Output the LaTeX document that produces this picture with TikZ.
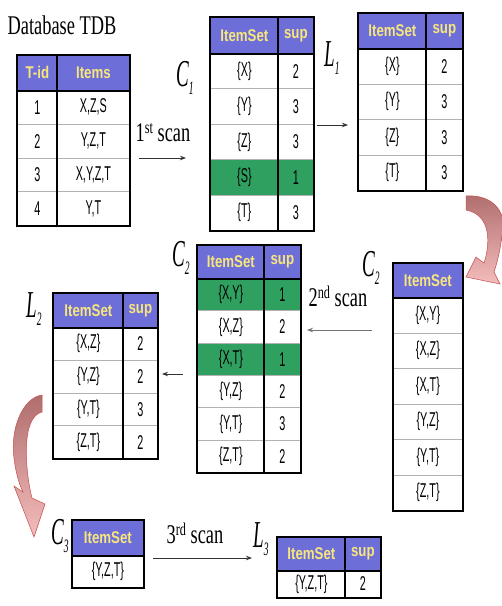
\documentclass[tikz,border=0pt]{standalone}
\usepackage{fontspec}
\setmainfont{Liberation Serif}
\setsansfont{Liberation Sans}
\usepackage{graphicx}
\usetikzlibrary{arrows.meta}
\definecolor{hdblue}{HTML}{6E6ED8}
\definecolor{hdyel}{HTML}{F6E67C}
\definecolor{grn}{HTML}{30A060}
\definecolor{pinkL}{HTML}{F4BCBC}
\definecolor{pinkD}{HTML}{B06E6E}
\newcommand\cellt[1]{\scalebox{0.54}[1]{\sffamily\fontsize{20}{20}\selectfont #1}}
\newcommand\hdt[1]{\scalebox{0.78}[1]{\sffamily\bfseries\fontsize{17}{17}\selectfont #1}}
\newcommand\labt[1]{\scalebox{0.68}[1]{\fontsize{27}{27}\selectfont #1}}
\newcommand\supt[1]{\raisebox{8pt}{\fontsize{18}{18}\selectfont #1}}
\newcommand\setlab[2]{\scalebox{0.5}[1]{\fontsize{38}{38}\selectfont\itshape #1\raisebox{-8pt}{\fontsize{19}{19}\selectfont #2}}}
\newcommand\tabcell[7]{\node[#2, anchor=north west, minimum width=#5pt, minimum height=#6pt] (#1) at (#3,#4) {#7};}
\tikzset{
 cl/.style={draw=gray!60, line width=0.8pt, fill=white, inner sep=0pt},
 hd/.style={draw=black, line width=0.8pt, fill=hdblue, inner sep=0pt, text=hdyel},
 outer/.style={draw=black, line width=2pt},
 hline/.style={draw=black, line width=1.8pt},
 vline/.style={draw=black, line width=1.3pt},
 flow/.style={draw=black!80, line width=0.8pt, -{Stealth[length=6pt,width=4.5pt]}},
 bendarrow/.style={top color=pinkD, bottom color=pinkL, draw=pinkD!70!red, line width=0.5pt},
}
\begin{document}
\begin{tikzpicture}[x=1pt,y=-1pt]
\useasboundingbox (0,0) rectangle (502,606);

% ---------- TDB ----------
\node (dbt) at (62,25) {\labt{Database TDB}};
\tabcell{tdbh1}{hd}{17}{55}{40}{35}{\hdt{T-id}}
\tabcell{tdbh2}{hd}{57}{55}{72}{35}{\hdt{Items}}
\foreach \i/\a/\b in {1/1/{X,Z,S},2/2/{Y,Z,T},3/3/{X,Y,Z,T},4/4/{Y,T}}{
 \pgfmathsetmacro\yy{90+(\i-1)*33.75}
 \tabcell{tdb\i a}{cl}{17}{\yy}{40}{33.75}{\cellt{\a}}
 \tabcell{tdb\i b}{cl}{57}{\yy}{72}{33.75}{\cellt{\b}}
}
\draw[outer] (tdbh1.north west) rectangle (tdb4b.south east);
\draw[hline] (tdbh1.south west) -- (tdbh2.south east);
\draw[vline] (tdbh2.north west) -- (tdb4b.south west);

% ---------- C1 ----------
\node (c1l) at (185,78) {\setlab{C}{1}};
\tabcell{c1h1}{hd}{210}{17}{68}{36}{\hdt{ItemSet}}
\tabcell{c1h2}{hd}{278}{17}{35}{36}{\hdt{sup}}
\foreach \i/\a/\b/\f in {1/{\{X\}}/2/white,2/{\{Y\}}/3/white,3/{\{Z\}}/3/white,4/{\{S\}}/1/grn,5/{\{T\}}/3/white}{
 \pgfmathsetmacro\yy{53+(\i-1)*35.4}
 \tabcell{c1\i a}{cl,fill=\f}{210}{\yy}{68}{35.4}{\cellt{\a}}
 \tabcell{c1\i b}{cl,fill=\f}{278}{\yy}{35}{35.4}{\cellt{\b}}
}
\draw[outer] (c1h1.north west) rectangle (c15b.south east);
\draw[hline] (c1h1.south west) -- (c1h2.south east);
\draw[vline] (c1h2.north west) -- (c15b.south west);

% ---------- L1 ----------
\node (l1l) at (332,58) {\setlab{L}{1}};
\tabcell{l1h1}{hd}{358}{13}{68}{35}{\hdt{ItemSet}}
\tabcell{l1h2}{hd}{426}{13}{36}{35}{\hdt{sup}}
\foreach \i/\a/\b in {1/{\{X\}}/2,2/{\{Y\}}/3,3/{\{Z\}}/3,4/{\{T\}}/3}{
 \pgfmathsetmacro\yy{48+(\i-1)*35.5}
 \tabcell{l1\i a}{cl}{358}{\yy}{68}{35.5}{\cellt{\a}}
 \tabcell{l1\i b}{cl}{426}{\yy}{36}{35.5}{\cellt{\b}}
}
\draw[outer] (l1h1.north west) rectangle (l14b.south east);
\draw[hline] (l1h1.south west) -- (l1h2.south east);
\draw[vline] (l1h2.north west) -- (l14b.south west);

% ---------- C2 (right) ----------
\node (c2rl) at (371,268) {\setlab{C}{2}};
\tabcell{c2rh}{hd}{393}{263}{69}{34}{\hdt{ItemSet}}
\foreach \i/\a in {1/{\{X,Y\}},2/{\{X,Z\}},3/{\{X,T\}},4/{\{Y,Z\}},5/{\{Y,T\}},6/{\{Z,T\}}}{
 \pgfmathsetmacro\yy{297+(\i-1)*35.5}
 \tabcell{c2r\i}{cl}{393}{\yy}{69}{35.5}{\cellt{\a}}
}
\draw[outer] (c2rh.north west) rectangle (c2r6.south east);
\draw[hline] (c2rh.south west) -- (c2rh.south east);

% ---------- C2 (left) ----------
\node (c2ll) at (181,258) {\setlab{C}{2}};
\tabcell{c2lh1}{hd}{197}{245}{67}{33}{\hdt{ItemSet}}
\tabcell{c2lh2}{hd}{264}{245}{36}{33}{\hdt{sup}}
\foreach \i/\a/\b/\f in {1/{\{X,Y\}}/1/grn,2/{\{X,Z\}}/2/white,3/{\{X,T\}}/1/grn,4/{\{Y,Z\}}/2/white,5/{\{Y,T\}}/3/white,6/{\{Z,T\}}/2/white}{
 \pgfmathsetmacro\yy{278+(\i-1)*32.33}
 \tabcell{c2l\i a}{cl,fill=\f}{197}{\yy}{67}{32.33}{\cellt{\a}}
 \tabcell{c2l\i b}{cl,fill=\f}{264}{\yy}{36}{32.33}{\cellt{\b}}
}
\draw[outer] (c2lh1.north west) rectangle (c2l6b.south east);
\draw[hline] (c2lh1.south west) -- (c2lh2.south east);
\draw[vline] (c2lh2.north west) -- (c2l6b.south west);

% ---------- L2 ----------
\node (l2l) at (34,309) {\setlab{L}{2}};
\tabcell{l2h1}{hd}{53}{293}{70}{34}{\hdt{ItemSet}}
\tabcell{l2h2}{hd}{123}{293}{34}{34}{\hdt{sup}}
\foreach \i/\a/\b in {1/{\{X,Z\}}/2,2/{\{Y,Z\}}/2,3/{\{Y,T\}}/3,4/{\{Z,T\}}/2}{
 \pgfmathsetmacro\yy{327+(\i-1)*32.75}
 \tabcell{l2\i a}{cl}{53}{\yy}{70}{32.75}{\cellt{\a}}
 \tabcell{l2\i b}{cl}{123}{\yy}{34}{32.75}{\cellt{\b}}
}
\draw[outer] (l2h1.north west) rectangle (l24b.south east);
\draw[hline] (l2h1.south west) -- (l2h2.south east);
\draw[vline] (l2h2.north west) -- (l24b.south west);

% ---------- C3 ----------
\node (c3l) at (60,536) {\setlab{C}{3}};
\tabcell{c3h}{hd}{72}{520}{71}{35}{\hdt{ItemSet}}
\tabcell{c31}{cl}{72}{555}{71}{32}{\cellt{\{Y,Z,T\}}}
\draw[outer] (c3h.north west) rectangle (c31.south east);
\draw[hline] (c3h.south west) -- (c3h.south east);

% ---------- L3 ----------
\node (l3l) at (261,539) {\setlab{L}{3}};
\tabcell{l3h1}{hd}{277}{537}{68}{33}{\hdt{ItemSet}}
\tabcell{l3h2}{hd}{345}{537}{35}{33}{\hdt{sup}}
\tabcell{l31a}{cl}{277}{570}{68}{27}{\cellt{\{Y,Z,T\}}}
\tabcell{l31b}{cl}{345}{570}{35}{27}{\cellt{2}}
\draw[outer] (l3h1.north west) rectangle (l31b.south east);
\draw[hline] (l3h1.south west) -- (l3h2.south east);
\draw[vline] (l3h2.north west) -- (l31b.south west);

% ---------- straight arrows ----------
\node (s1t) at (163,133) {\labt{1\supt{st} scan}};
\coordinate (s1a) at (139,158); \coordinate (s1b) at (186,158);
\draw[flow] (s1a) -- (s1b);
\coordinate (f1a) at (317,125); \coordinate (f1b) at (348,125);
\draw[flow] (f1a) -- (f1b);
\node (s2t) at (338,296) {\labt{2\supt{nd} scan}};
\coordinate (s2a) at (372,330); \coordinate (s2b) at (307,330);
\draw[flow, draw=black!55] (s2a) -- (s2b);
\coordinate (f2a) at (183,374); \coordinate (f2b) at (162,374);
\draw[flow] (f2a) -- (f2b);
\node (s3t) at (195,533) {\labt{3\supt{rd} scan}};
\coordinate (s3a) at (153,558); \coordinate (s3b) at (252,558);
\draw[flow] (s3a) -- (s3b);

% ---------- curved arrows ----------
\path[bendarrow] (466,196) .. controls (495,194) and (508,215) .. (502,235)
  .. controls (500,252) and (497,263) .. (494,272) -- (500,284) -- (466,277)
  -- (476,257) -- (484,263) .. controls (490,245) and (492,215) .. (466,210) -- cycle;
\path[bendarrow] (42,395) .. controls (22,398) and (10,430) .. (14,458)
  .. controls (16,475) and (20,486) .. (23,492) -- (14,486) -- (34,537)
  -- (45,504) -- (32,498) .. controls (26,475) and (24,440) .. (30,425)
  .. controls (33,417) and (37,413) .. (42,412) -- cycle;
\end{tikzpicture}
\end{document}
